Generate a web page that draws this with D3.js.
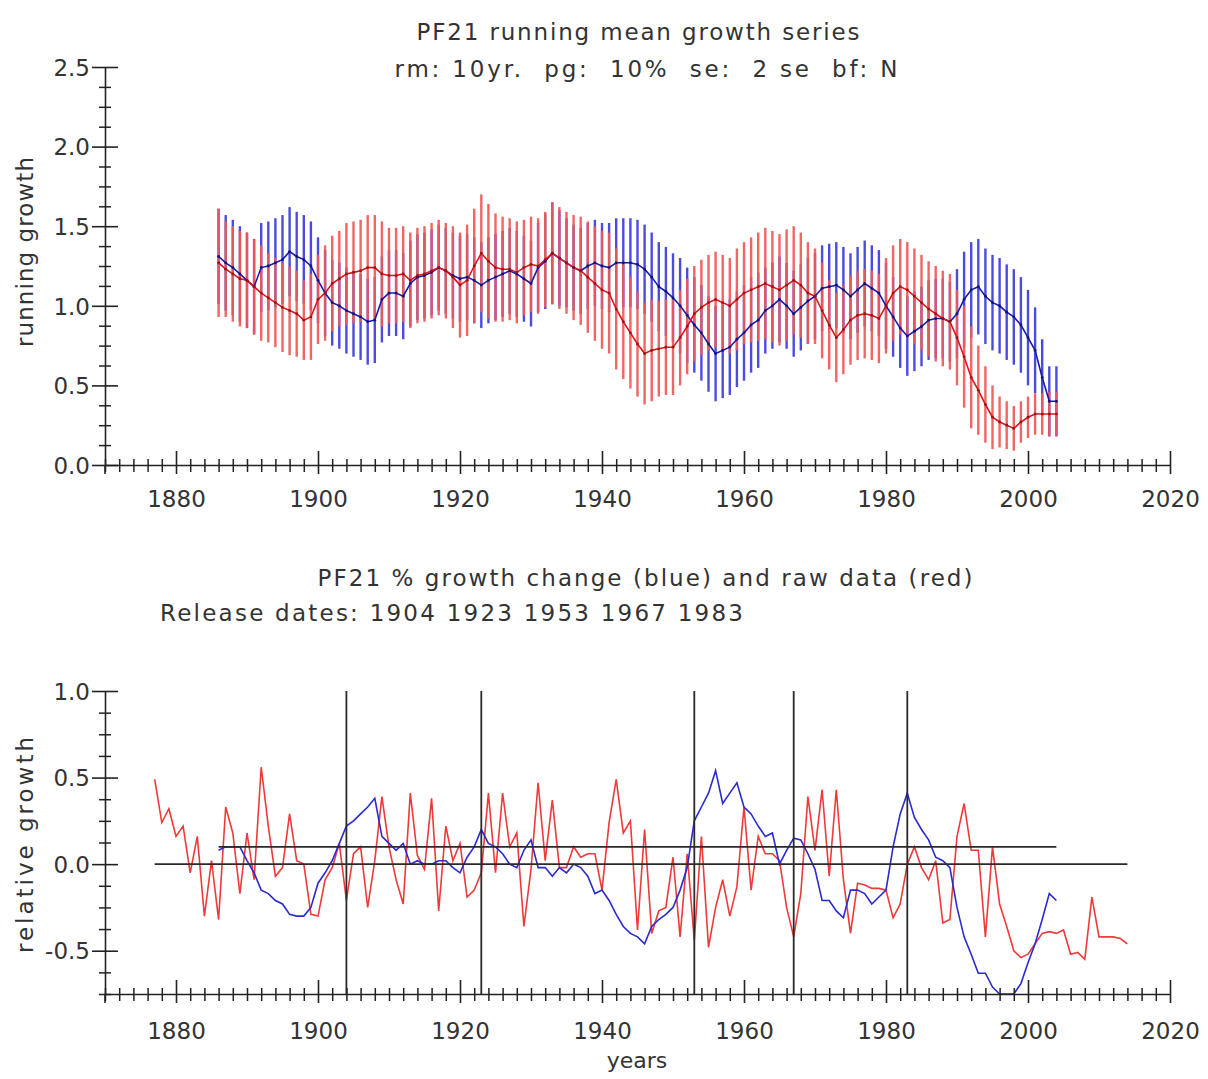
<!DOCTYPE html>
<html>
<head>
<meta charset="utf-8">
<script src="https://cdn.jsdelivr.net/npm/d3@7"></script>
<style>
  html, body { margin: 0; padding: 0; background: #fff; }
  svg text { font-family: "DejaVu Sans", sans-serif; fill: #333; }
</style>
</head>
<body>
<svg id="chart" width="1208" height="1079"></svg>
<script>
// ---------------- DATA ----------------
const topStartYear = 1886;           // running-mean series years 1886..2004
const rawStartYear = 1877;           // raw data years 1877..2014
const xMajorTicks = [1880, 1900, 1920, 1940, 1960, 1980, 2000, 2020];
const yTopMajorTicks = [0.0, 0.5, 1.0, 1.5, 2.0, 2.5];
const yBotMajorTicks = [-0.5, 0.0, 0.5, 1.0];
const releaseYears = [1904, 1923, 1953, 1967, 1983];

// top panel: running mean (blue) and its 2 se half-width
const blueMeanTop = [
  1.31,1.27,1.24,1.20,1.16,1.12,1.24,1.25,1.27,1.29,
  1.34,1.31,1.29,1.25,1.16,1.08,1.02,1.00,0.97,0.95,
  0.93,0.90,0.91,1.04,1.08,1.08,1.06,1.14,1.18,1.19,
  1.21,1.24,1.22,1.19,1.17,1.18,1.16,1.13,1.16,1.18,
  1.20,1.22,1.20,1.17,1.14,1.24,1.28,1.33,1.30,1.27,
  1.24,1.22,1.25,1.27,1.25,1.24,1.27,1.27,1.27,1.26,
  1.23,1.18,1.12,1.09,1.05,1.00,0.94,0.88,0.83,0.76,
  0.70,0.72,0.74,0.79,0.83,0.88,0.91,0.97,1.00,1.04,
  1.00,0.95,0.99,1.03,1.06,1.11,1.12,1.13,1.10,1.06,
  1.10,1.14,1.11,1.08,1.00,0.93,0.86,0.81,0.84,0.87,
  0.91,0.92,0.92,0.90,0.95,1.04,1.10,1.12,1.06,1.02,
  1.00,0.96,0.93,0.88,0.80,0.72,0.55,0.40,0.40
];
const blueHalfTop = [
  0.30,0.30,0.30,0.30,0.30,0.30,0.28,0.28,0.28,0.28,
  0.28,0.28,0.28,0.28,0.27,0.27,0.27,0.27,0.27,0.27,
  0.27,0.27,0.27,0.27,0.27,0.27,0.27,0.27,0.27,0.27,
  0.27,0.27,0.27,0.27,0.27,0.27,0.27,0.27,0.27,0.27,
  0.27,0.27,0.27,0.27,0.27,0.28,0.30,0.32,0.30,0.28,
  0.27,0.27,0.27,0.27,0.27,0.28,0.28,0.28,0.28,0.28,
  0.28,0.28,0.28,0.28,0.28,0.30,0.30,0.30,0.30,0.30,
  0.30,0.30,0.30,0.30,0.30,0.30,0.30,0.27,0.27,0.27,
  0.27,0.27,0.27,0.27,0.27,0.27,0.27,0.27,0.27,0.27,
  0.27,0.27,0.27,0.27,0.27,0.25,0.25,0.25,0.25,0.25,
  0.25,0.25,0.25,0.25,0.28,0.30,0.30,0.30,0.30,0.30,
  0.30,0.30,0.30,0.30,0.30,0.27,0.24,0.22,0.22
];
// top panel: running mean (red) and its 2 se half-width
const redMeanTop = [
  1.27,1.23,1.20,1.17,1.16,1.12,1.08,1.05,1.02,0.99,
  0.97,0.95,0.91,0.93,1.04,1.08,1.14,1.17,1.20,1.21,
  1.22,1.24,1.24,1.20,1.19,1.19,1.20,1.16,1.19,1.20,
  1.22,1.24,1.22,1.18,1.13,1.16,1.25,1.33,1.28,1.24,
  1.23,1.23,1.21,1.24,1.26,1.25,1.29,1.33,1.30,1.27,
  1.24,1.22,1.18,1.14,1.10,1.08,0.98,0.90,0.83,0.76,
  0.70,0.72,0.73,0.74,0.74,0.80,0.87,0.95,0.99,1.02,
  1.04,1.02,1.00,1.04,1.08,1.10,1.12,1.14,1.12,1.10,
  1.13,1.16,1.13,1.08,1.06,0.97,0.88,0.80,0.85,0.91,
  0.94,0.95,0.94,0.92,1.00,1.08,1.12,1.10,1.06,1.02,
  0.98,0.95,0.92,0.90,0.80,0.68,0.55,0.47,0.38,0.30,
  0.27,0.25,0.23,0.27,0.30,0.32,0.32,0.32,0.32
];
const redHalfTop = [
  0.34,0.30,0.30,0.30,0.30,0.30,0.30,0.28,0.28,0.28,
  0.28,0.27,0.25,0.27,0.28,0.30,0.30,0.30,0.32,0.32,
  0.32,0.33,0.33,0.33,0.30,0.30,0.30,0.30,0.30,0.30,
  0.30,0.30,0.30,0.32,0.33,0.35,0.36,0.37,0.36,0.34,
  0.33,0.32,0.32,0.30,0.30,0.30,0.30,0.32,0.32,0.32,
  0.33,0.34,0.35,0.36,0.37,0.38,0.38,0.36,0.35,0.33,
  0.32,0.32,0.30,0.30,0.30,0.30,0.30,0.30,0.30,0.30,
  0.30,0.30,0.30,0.32,0.32,0.33,0.34,0.35,0.35,0.35,
  0.35,0.34,0.33,0.32,0.30,0.30,0.28,0.28,0.28,0.28,
  0.28,0.28,0.28,0.28,0.30,0.30,0.30,0.30,0.30,0.30,
  0.30,0.30,0.30,0.30,0.30,0.32,0.32,0.28,0.24,0.20,
  0.16,0.15,0.14,0.13,0.13,0.13,0.13,0.14,0.14
];

// bottom panel: raw data (red) 1877..2014
const rawRed = [
  0.49,0.24,0.32,0.16,0.22,-0.05,0.16,-0.30,0.02,-0.32,
  0.33,0.18,-0.17,0.18,-0.09,0.56,0.22,-0.07,-0.02,0.29,
  0.02,0.00,-0.29,-0.30,-0.09,-0.02,0.12,-0.21,0.06,0.10,
  -0.25,0.02,0.39,0.10,-0.09,-0.23,0.41,0.05,-0.03,0.38,
  -0.27,0.22,0.02,0.12,-0.19,-0.15,-0.05,0.41,-0.05,0.41,
  0.10,0.18,-0.36,-0.03,0.47,0.02,0.37,-0.02,-0.02,0.10,
  0.04,0.06,0.06,-0.15,0.24,0.49,0.18,0.25,-0.38,0.20,
  -0.40,-0.27,-0.25,0.04,-0.42,0.06,-0.44,0.16,-0.48,-0.25,
  -0.09,-0.30,-0.13,0.33,-0.15,0.16,0.06,0.06,0.02,-0.25,
  -0.42,-0.17,0.39,0.08,0.43,-0.07,0.43,-0.09,-0.40,-0.11,
  -0.12,-0.14,-0.14,-0.15,-0.31,-0.23,0.00,0.10,-0.02,-0.09,
  0.02,-0.34,-0.32,0.16,0.35,0.08,0.08,-0.42,0.10,-0.23,
  -0.36,-0.50,-0.54,-0.52,-0.46,-0.40,-0.39,-0.40,-0.38,-0.52,
  -0.51,-0.55,-0.19,-0.42,-0.42,-0.42,-0.43,-0.46
];
// bottom panel: % growth change (blue) 1886..2004
const changeBlue = [
  0.08,0.10,0.10,0.10,0.02,-0.05,-0.15,-0.17,-0.21,-0.23,
  -0.29,-0.30,-0.30,-0.25,-0.11,-0.05,0.02,0.12,0.22,0.25,
  0.29,0.33,0.38,0.16,0.12,0.08,0.12,0.00,0.02,0.00,
  0.00,0.02,0.02,-0.02,-0.05,0.04,0.10,0.20,0.12,0.10,
  0.06,0.00,-0.02,0.08,0.14,-0.02,-0.02,-0.07,-0.02,-0.05,
  0.00,-0.02,-0.07,-0.17,-0.15,-0.21,-0.29,-0.36,-0.40,-0.42,
  -0.46,-0.36,-0.32,-0.29,-0.25,-0.15,-0.02,0.25,0.33,0.41,
  0.54,0.35,0.41,0.47,0.33,0.29,0.22,0.16,0.18,0.00,
  0.08,0.15,0.14,0.06,-0.03,-0.21,-0.21,-0.27,-0.31,-0.15,
  -0.15,-0.17,-0.23,-0.19,-0.15,0.10,0.29,0.41,0.27,0.20,
  0.14,0.04,0.02,-0.02,-0.25,-0.42,-0.52,-0.63,-0.63,-0.71,
  -0.75,-0.75,-0.75,-0.69,-0.57,-0.46,-0.32,-0.17,-0.21
];
// reference lines (value, start year, end year)
const refLevels = [0.0, 0.1];
const refStarts = [1877, 1886];
const refEnds = [2014, 2004];

// ---------------- DRAW ----------------
const svg = d3.select("#chart");
svg.append("rect").attr("width", 1208).attr("height", 1079).attr("fill", "#fff");

const x = d3.scaleLinear().domain([1870, 2020]).range([105, 1170]);
const yTop = d3.scaleLinear().domain([0, 2.5]).range([465, 67]);
const yBot = d3.scaleLinear().domain([-0.75, 1.0]).range([994, 691]);

const fmt = v => (v < 0 ? "-" : "") + Math.abs(v).toFixed(1);
const AX = "#222";

function drawAxes(yScale, yMajor, yMinorStep, xAxisY, labelBaseline) {
  const [y0, y1] = yScale.domain();
  // minor y ticks
  const yMinor = d3.range(y0, y1 + 1e-9, yMinorStep).filter(v => !yMajor.some(m => Math.abs(m - v) < 1e-6));
  const gyMin = svg.append("g").attr("transform", "translate(105,0)")
    .call(d3.axisLeft(yScale).tickValues(yMinor).tickFormat("").tickSizeOuter(0));
  gyMin.select(".domain").remove();
  gyMin.selectAll(".tick line").attr("x1", 6).attr("x2", -6).attr("stroke", AX).attr("stroke-width", 1.5);
  // major y ticks + labels
  const gy = svg.append("g").attr("transform", "translate(105,0)")
    .call(d3.axisLeft(yScale).tickValues(yMajor).tickFormat(fmt).tickSize(0).tickSizeOuter(0).tickPadding(15));
  gy.select(".domain").attr("stroke", AX).attr("stroke-width", 1.6);
  gy.selectAll(".tick line").attr("x1", 13).attr("x2", -13).attr("stroke", AX).attr("stroke-width", 1.6);
  gy.selectAll(".tick text").attr("font-size", 23).attr("font-family", "DejaVu Sans").attr("fill", "#333")
    .attr("dy", "0.36em");
  // minor x ticks
  const xMinor = d3.range(1870, 2021, 2).filter(v => v % 20 !== 0);
  const gxMin = svg.append("g").attr("transform", `translate(0,${xAxisY})`)
    .call(d3.axisBottom(x).tickValues(xMinor).tickFormat("").tickSizeOuter(0));
  gxMin.select(".domain").remove();
  gxMin.selectAll(".tick line").attr("y1", -6).attr("y2", 7).attr("stroke", AX).attr("stroke-width", 1.5);
  // major x ticks + labels
  const gx = svg.append("g").attr("transform", `translate(0,${xAxisY})`)
    .call(d3.axisBottom(x).tickValues(xMajorTicks).tickFormat(d3.format("d")).tickSize(0).tickSizeOuter(0));
  gx.select(".domain").attr("stroke", AX).attr("stroke-width", 1.6);
  gx.selectAll(".tick line").attr("y1", -14).attr("y2", 9).attr("stroke", AX).attr("stroke-width", 1.6);
  gx.selectAll(".tick text").attr("font-size", 23).attr("font-family", "DejaVu Sans").attr("fill", "#333")
    .attr("dy", null).attr("y", labelBaseline - xAxisY);
  // small stub of the y axis below the x axis at 1870
  svg.append("line").attr("x1", x(1870)).attr("x2", x(1870))
    .attr("y1", xAxisY).attr("y2", xAxisY + 9).attr("stroke", AX).attr("stroke-width", 1.6);
}

// ---------- top panel ----------
const topYears = blueMeanTop.map((_, i) => topStartYear + i);
const blueColBar = "#4b4be0", redColBar = "#f05858";
const gBars = svg.append("g");
gBars.selectAll("line.bb").data(topYears).join("line")
  .attr("x1", d => x(d)).attr("x2", d => x(d))
  .attr("y1", (d, i) => yTop(blueMeanTop[i] + blueHalfTop[i]))
  .attr("y2", (d, i) => yTop(blueMeanTop[i] - blueHalfTop[i]))
  .attr("stroke", blueColBar).attr("stroke-width", 2.4);
gBars.selectAll("line.rb").data(topYears).join("line")
  .attr("x1", d => x(d)).attr("x2", d => x(d))
  .attr("y1", (d, i) => yTop(redMeanTop[i] + redHalfTop[i]))
  .attr("y2", (d, i) => yTop(redMeanTop[i] - redHalfTop[i]))
  .attr("stroke", redColBar).attr("stroke-width", 2.4).attr("stroke-opacity", 0.92);

const lineTop = arr => d3.line().x((d, i) => x(topStartYear + i)).y(d => yTop(d))(arr);
svg.append("path").attr("d", lineTop(blueMeanTop)).attr("fill", "none").attr("stroke", "#1a1aa8").attr("stroke-width", 1.6);
svg.append("path").attr("d", lineTop(redMeanTop)).attr("fill", "none").attr("stroke", "#d81818").attr("stroke-width", 1.6);
svg.append("g").selectAll("circle").data(blueMeanTop).join("circle")
  .attr("cx", (d, i) => x(topStartYear + i)).attr("cy", d => yTop(d)).attr("r", 1.4).attr("fill", "#12127a");
svg.append("g").selectAll("circle").data(redMeanTop).join("circle")
  .attr("cx", (d, i) => x(topStartYear + i)).attr("cy", d => yTop(d)).attr("r", 1.4).attr("fill", "#a01010");

drawAxes(yTop, yTopMajorTicks, 0.125, 465, 507);

// ---------- bottom panel ----------
const lineRaw = d3.line().x((d, i) => x(rawStartYear + i)).y(d => yBot(d));
const lineChg = d3.line().x((d, i) => x(topStartYear + i)).y(d => yBot(d));
svg.append("path").attr("d", lineRaw(rawRed)).attr("fill", "none").attr("stroke", "#ee3a3a").attr("stroke-width", 1.6);
svg.append("path").attr("d", lineChg(changeBlue)).attr("fill", "none").attr("stroke", "#2a2ad0").attr("stroke-width", 1.6);

svg.append("g").selectAll("line").data(releaseYears).join("line")
  .attr("x1", d => x(d)).attr("x2", d => x(d))
  .attr("y1", yBot(1.0)).attr("y2", yBot(-0.75))
  .attr("stroke", "#2a2a2a").attr("stroke-width", 1.8);
svg.append("g").selectAll("line").data(refLevels).join("line")
  .attr("x1", (d, i) => x(refStarts[i])).attr("x2", (d, i) => x(refEnds[i]))
  .attr("y1", d => yBot(d)).attr("y2", d => yBot(d))
  .attr("stroke", "#2a2a2a").attr("stroke-width", 1.8);

drawAxes(yBot, yBotMajorTicks, 0.125, 994, 1039);

// ---------- texts ----------
function txt(s, xx, yy, opts = {}) {
  const t = svg.append("text").attr("x", xx).attr("y", yy).attr("font-size", opts.size || 23)
    .attr("text-anchor", opts.anchor || "middle").style("white-space", "pre").text(s);
  if (opts.len) t.attr("textLength", opts.len).attr("lengthAdjust", "spacing");
  if (opts.rot) t.attr("transform", `rotate(-90,${xx},${yy})`);
  return t;
}
txt("PF21 running mean growth series", 638, 40, { len: 443 });
txt("rm: 10yr.  pg:  10%  se:  2 se  bf: N", 646, 77, { len: 503 });
txt("PF21 % growth change (blue) and raw data (red)", 645, 586, { len: 655 });
txt("Release dates: 1904 1923 1953 1967 1983", 160, 621, { len: 583, anchor: "start" });
txt("running growth", 33, 252, { len: 190, rot: true });
txt("relative growth", 33, 845, { len: 216, rot: true });
txt("years", 637, 1068, { size: 22 });
</script>
</body>
</html>
